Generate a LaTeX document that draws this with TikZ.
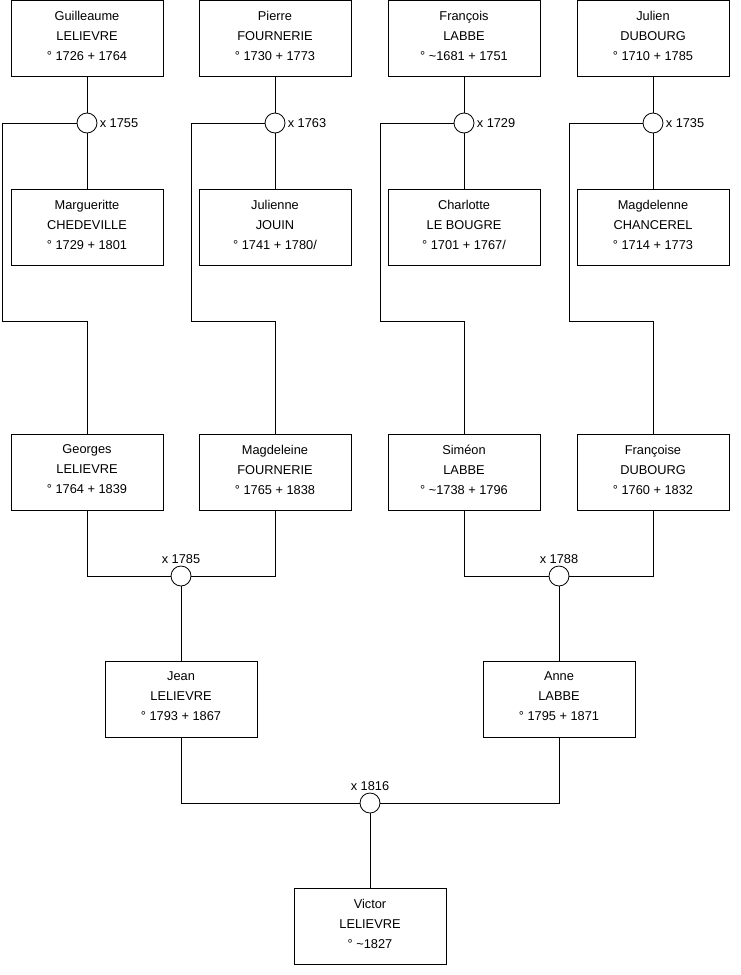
\documentclass[tikz,border=0pt]{standalone}
\usepackage{fontspec}
\setmainfont{Liberation Sans}
\usetikzlibrary{calc}

\tikzset{
    person/.style={draw, rectangle, minimum width=152pt, minimum height=76pt, inner sep=0pt, align=center, font=\fontsize{12.8}{20}\selectfont, execute at end node={\rule[-5pt]{0pt}{5pt}}},
    union/.style={draw, circle, minimum size=20pt, inner sep=0pt, fill=white},
    wedding/.style={inner sep=2pt, font=\fontsize{12.8}{15}\selectfont},
}

\begin{document}
\begin{tikzpicture}[x=1pt, y=-1pt, line width=0.8pt]
    \useasboundingbox (0,0) rectangle (740,975);
    % grands-parents paternels / maternels
    \node[person](guillaume)at(87,38){Guilleaume\\LELIEVRE\\° 1726 + 1764};
    \node[person](pierre)at(275,38){Pierre\\FOURNERIE\\° 1730 + 1773};
    \node[person](francois)at(464,38){François\\LABBE\\° \textasciitilde1681 + 1751};
    \node[person](julien)at(653,38){Julien\\DUBOURG\\° 1710 + 1785};
    \node[person](margueritte)at(87,227){Margueritte\\CHEDEVILLE\\° 1729 + 1801};
    \node[person](julienne)at(275,227){Julienne\\JOUIN\\° 1741 + 1780/};
    \node[person](charlotte)at(464,227){Charlotte\\LE BOUGRE\\° 1701 + 1767/};
    \node[person](magdelenne)at(653,227){Magdelenne\\CHANCEREL\\° 1714 + 1773};
    % parents
    \node[person](georges)at(87,472){Georges\\LELIEVRE\\° 1764 + 1839};
    \node[person](magdeleine)at(275,472){Magdeleine\\FOURNERIE\\° 1765 + 1838};
    \node[person](simeon)at(464,472){Siméon\\LABBE\\° \textasciitilde1738 + 1796};
    \node[person](francoise)at(653,472){Françoise\\DUBOURG\\° 1760 + 1832};
    \node[person](jean)at(181,699){Jean\\LELIEVRE\\° 1793 + 1867};
    \node[person](anne)at(559,699){Anne\\LABBE\\° 1795 + 1871};
    \node[person](victor)at(370,926){Victor\\LELIEVRE\\° \textasciitilde1827};

    % coudes des lignes
    \coordinate(k1)at(2,321);
    \coordinate(k2)at(191,321);
    \coordinate(k3)at(380,321);
    \coordinate(k4)at(569,321);

    % mariages
    \node[union](u1)at(87,123){};
    \node[union](u2)at(275,123){};
    \node[union](u3)at(464,123){};
    \node[union](u4)at(653,123){};
    \node[union](u5)at(181,576){};
    \node[union](u6)at(559,576){};
    \node[union](u7)at(370,803){};
    \node[wedding, right](w1)at(u1.east){x 1755};
    \node[wedding, right](w2)at(u2.east){x 1763};
    \node[wedding, right](w3)at(u3.east){x 1729};
    \node[wedding, right](w4)at(u4.east){x 1735};
    \node[wedding, above](w5)at(u5.north){x 1785};
    \node[wedding, above](w6)at(u6.north){x 1788};
    \node[wedding, above](w7)at(u7.north){x 1816};

    \path[draw](guillaume)to(u1)to(margueritte);
    \path[draw](pierre)to(u2)to(julienne);
    \path[draw](francois)to(u3)to(charlotte);
    \path[draw](julien)to(u4)to(magdelenne);
    \path[draw](u1.west)-|(k1)-|(georges.north);
    \path[draw](u2.west)-|(k2)-|(magdeleine.north);
    \path[draw](u3.west)-|(k3)-|(simeon.north);
    \path[draw](u4.west)-|(k4)-|(francoise.north);
    \path[draw](georges.south)|-(u5.west);
    \path[draw](magdeleine.south)|-(u5.east);
    \path[draw](simeon.south)|-(u6.west);
    \path[draw](francoise.south)|-(u6.east);
    \path[draw](u5)to(jean);
    \path[draw](u6)to(anne);
    \path[draw](jean.south)|-(u7.west);
    \path[draw](anne.south)|-(u7.east);
    \path[draw](u7)to(victor);
\end{tikzpicture}
\end{document}
